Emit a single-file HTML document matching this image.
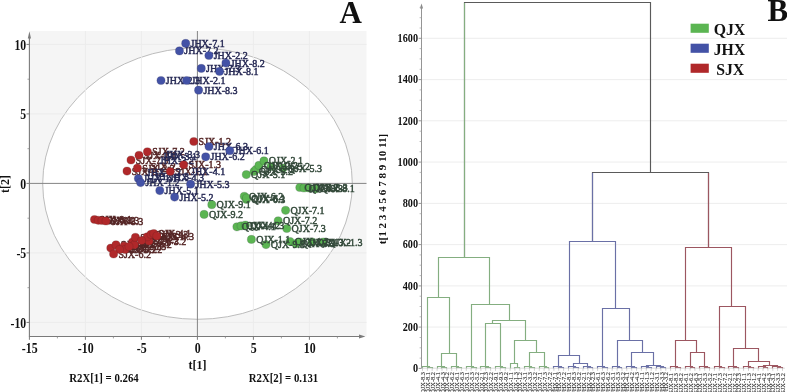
<!DOCTYPE html><html><head><meta charset="utf-8"><style>html,body{margin:0;padding:0;background:#fff;width:787px;height:392px;overflow:hidden}svg{display:block;will-change:transform}text{font-family:"Liberation Serif",serif}</style></head><body>
<svg width="787" height="392" viewBox="0 0 787 392">
<rect x="30" y="31" width="336.5" height="305.4" fill="#f5f5f5"/>
<ellipse cx="197.5" cy="183.6" rx="154.8" ry="135.7" fill="#fff" stroke="#b4b4b4" stroke-width="0.9"/>
<line x1="85.4" y1="31" x2="85.4" y2="336" stroke="#ebebeb" stroke-width="0.9"/>
<line x1="141.4" y1="31" x2="141.4" y2="336" stroke="#ebebeb" stroke-width="0.9"/>
<line x1="253.4" y1="31" x2="253.4" y2="336" stroke="#ebebeb" stroke-width="0.9"/>
<line x1="309.4" y1="31" x2="309.4" y2="336" stroke="#ebebeb" stroke-width="0.9"/>
<line x1="30" y1="44.4" x2="366.5" y2="44.4" stroke="#ebebeb" stroke-width="0.9"/>
<line x1="30" y1="113.9" x2="366.5" y2="113.9" stroke="#ebebeb" stroke-width="0.9"/>
<line x1="30" y1="252.9" x2="366.5" y2="252.9" stroke="#ebebeb" stroke-width="0.9"/>
<line x1="30" y1="322.4" x2="366.5" y2="322.4" stroke="#ebebeb" stroke-width="0.9"/>
<line x1="197.4" y1="31" x2="197.4" y2="336" stroke="#858585" stroke-width="1"/>
<line x1="30" y1="183.4" x2="366.5" y2="183.4" stroke="#858585" stroke-width="1"/>
<line x1="29.4" y1="37" x2="29.4" y2="337" stroke="#7a7a7a" stroke-width="1.1"/>
<path d="M29.4 31.3 L27.8 38.6 L31 38.6 Z" fill="#7a7a7a"/>
<line x1="29" y1="336.5" x2="360" y2="336.5" stroke="#7a7a7a" stroke-width="1.1"/>
<path d="M365.4 336.5 L359 334.5 L359 338.5 Z" fill="#7a7a7a"/>
<line x1="26.5" y1="44.4" x2="29.4" y2="44.4" stroke="#7a7a7a" stroke-width="1"/>
<line x1="26.5" y1="113.9" x2="29.4" y2="113.9" stroke="#7a7a7a" stroke-width="1"/>
<line x1="26.5" y1="183.4" x2="29.4" y2="183.4" stroke="#7a7a7a" stroke-width="1"/>
<line x1="26.5" y1="252.9" x2="29.4" y2="252.9" stroke="#7a7a7a" stroke-width="1"/>
<line x1="26.5" y1="322.4" x2="29.4" y2="322.4" stroke="#7a7a7a" stroke-width="1"/>
<line x1="27.5" y1="79.2" x2="29.4" y2="79.2" stroke="#8a8a8a" stroke-width="0.8"/>
<line x1="27.5" y1="148.7" x2="29.4" y2="148.7" stroke="#8a8a8a" stroke-width="0.8"/>
<line x1="27.5" y1="218.2" x2="29.4" y2="218.2" stroke="#8a8a8a" stroke-width="0.8"/>
<line x1="27.5" y1="287.7" x2="29.4" y2="287.7" stroke="#8a8a8a" stroke-width="0.8"/>
<line x1="29.4" y1="336.5" x2="29.4" y2="339.8" stroke="#7a7a7a" stroke-width="1"/>
<line x1="85.4" y1="336.5" x2="85.4" y2="339.8" stroke="#7a7a7a" stroke-width="1"/>
<line x1="141.4" y1="336.5" x2="141.4" y2="339.8" stroke="#7a7a7a" stroke-width="1"/>
<line x1="197.4" y1="336.5" x2="197.4" y2="339.8" stroke="#7a7a7a" stroke-width="1"/>
<line x1="253.4" y1="336.5" x2="253.4" y2="339.8" stroke="#7a7a7a" stroke-width="1"/>
<line x1="309.4" y1="336.5" x2="309.4" y2="339.8" stroke="#7a7a7a" stroke-width="1"/>
<line x1="57.4" y1="336.5" x2="57.4" y2="338.4" stroke="#8a8a8a" stroke-width="0.8"/>
<line x1="113.4" y1="336.5" x2="113.4" y2="338.4" stroke="#8a8a8a" stroke-width="0.8"/>
<line x1="169.4" y1="336.5" x2="169.4" y2="338.4" stroke="#8a8a8a" stroke-width="0.8"/>
<line x1="225.4" y1="336.5" x2="225.4" y2="338.4" stroke="#8a8a8a" stroke-width="0.8"/>
<line x1="281.4" y1="336.5" x2="281.4" y2="338.4" stroke="#8a8a8a" stroke-width="0.8"/>
<line x1="337.4" y1="336.5" x2="337.4" y2="338.4" stroke="#8a8a8a" stroke-width="0.8"/>
<text transform="translate(26.2,49.8) scale(0.98,1.18)" text-anchor="end" font-weight="bold" font-size="12" fill="#111">10</text>
<text transform="translate(26.2,119.3) scale(0.98,1.18)" text-anchor="end" font-weight="bold" font-size="12" fill="#111">5</text>
<text transform="translate(26.2,188.8) scale(0.98,1.18)" text-anchor="end" font-weight="bold" font-size="12" fill="#111">0</text>
<text transform="translate(26.2,258.3) scale(0.98,1.18)" text-anchor="end" font-weight="bold" font-size="12" fill="#111">-5</text>
<text transform="translate(26.2,327.8) scale(0.98,1.18)" text-anchor="end" font-weight="bold" font-size="12" fill="#111">-10</text>
<text transform="translate(29.7,352.7) scale(0.99,1.2)" text-anchor="middle" font-weight="bold" font-size="12" fill="#111">-15</text>
<text transform="translate(85.7,352.7) scale(0.99,1.2)" text-anchor="middle" font-weight="bold" font-size="12" fill="#111">-10</text>
<text transform="translate(141.7,352.7) scale(0.99,1.2)" text-anchor="middle" font-weight="bold" font-size="12" fill="#111">-5</text>
<text transform="translate(197.7,352.7) scale(0.99,1.2)" text-anchor="middle" font-weight="bold" font-size="12" fill="#111">0</text>
<text transform="translate(253.7,352.7) scale(0.99,1.2)" text-anchor="middle" font-weight="bold" font-size="12" fill="#111">5</text>
<text transform="translate(309.7,352.7) scale(0.99,1.2)" text-anchor="middle" font-weight="bold" font-size="12" fill="#111">10</text>
<text x="197.6" y="369" text-anchor="middle" font-weight="bold" font-size="12" fill="#111">t[1]</text>
<text transform="translate(9.3,184) rotate(-90)" text-anchor="middle" font-weight="bold" font-size="12" fill="#111">t[2]</text>
<text transform="translate(69.3,382.2) scale(0.9,1)" font-weight="bold" font-size="12" fill="#111">R2X[1] = 0.264</text>
<text transform="translate(248.8,382.2) scale(0.9,1)" font-weight="bold" font-size="12" fill="#111">R2X[2] = 0.131</text>
<text x="339.6" y="22.6" font-weight="bold" font-size="31" fill="#111">A</text>
<text x="198.6" y="145.0" font-size="10" fill="#552626" stroke="#552626" stroke-width="0.45">SJX-1.2</text><text x="135.8" y="163.5" font-size="10" fill="#552626" stroke="#552626" stroke-width="0.45">SJX-7.3</text><text x="143.8" y="158.8" font-size="10" fill="#552626" stroke="#552626" stroke-width="0.45">SJX-7.1</text><text x="152.2" y="155.3" font-size="10" fill="#552626" stroke="#552626" stroke-width="0.45">SJX-7.2</text><text x="131.8" y="174.6" font-size="10" fill="#552626" stroke="#552626" stroke-width="0.45">SJX-2.1</text><text x="142.2" y="171.7" font-size="10" fill="#552626" stroke="#552626" stroke-width="0.45">SJX-2.2</text><text x="150.8" y="170.0" font-size="10" fill="#552626" stroke="#552626" stroke-width="0.45">SJX-2.3</text><text x="175.0" y="175.0" font-size="10" fill="#552626" stroke="#552626" stroke-width="0.45">SJX-1.1</text><text x="188.5" y="168.3" font-size="10" fill="#552626" stroke="#552626" stroke-width="0.45">SJX-1.3</text><text x="99.3" y="223.0" font-size="10" fill="#552626" stroke="#552626" stroke-width="0.45">SJX-8.1</text><text x="103.1" y="223.8" font-size="10" fill="#552626" stroke="#552626" stroke-width="0.45">SJX-8.2</text><text x="106.8" y="224.0" font-size="10" fill="#552626" stroke="#552626" stroke-width="0.45">SJX-8.3</text><text x="110.8" y="224.5" font-size="10" fill="#552626" stroke="#552626" stroke-width="0.45">SJX-8.3</text><text x="115.6" y="251.6" font-size="10" fill="#552626" stroke="#552626" stroke-width="0.45">SJX-6.1</text><text x="120.8" y="248.3" font-size="10" fill="#552626" stroke="#552626" stroke-width="0.45">SJX-6.3</text><text x="128.9" y="249.7" font-size="10" fill="#552626" stroke="#552626" stroke-width="0.45">SJX-5.3</text><text x="129.8" y="253.0" font-size="10" fill="#552626" stroke="#552626" stroke-width="0.45">SJX-5.2</text><text x="137.3" y="245.5" font-size="10" fill="#552626" stroke="#552626" stroke-width="0.45">SJX-5.1</text><text x="139.2" y="248.3" font-size="10" fill="#552626" stroke="#552626" stroke-width="0.45">SJX-4.2</text><text x="140.2" y="240.8" font-size="10" fill="#552626" stroke="#552626" stroke-width="0.45">SJX-4.3</text><text x="153.8" y="244.5" font-size="10" fill="#552626" stroke="#552626" stroke-width="0.45">SJX-3.2</text><text x="152.0" y="240.3" font-size="10" fill="#552626" stroke="#552626" stroke-width="0.45">SJX-3.1</text><text x="155.8" y="237.9" font-size="10" fill="#552626" stroke="#552626" stroke-width="0.45">SJX-3.3</text><text x="158.6" y="237.0" font-size="10" fill="#552626" stroke="#552626" stroke-width="0.45">SJX-4.1</text><text x="124.3" y="253.0" font-size="10" fill="#552626" stroke="#552626" stroke-width="0.45">SJX-5.2</text><text x="133.8" y="250.0" font-size="10" fill="#552626" stroke="#552626" stroke-width="0.45">SJX-5.3</text><text x="146.3" y="244.0" font-size="10" fill="#552626" stroke="#552626" stroke-width="0.45">SJX-4.2</text><text x="161.6" y="239.5" font-size="10" fill="#552626" stroke="#552626" stroke-width="0.45">SJX-4.3</text><text x="118.4" y="257.5" font-size="10" fill="#552626" stroke="#552626" stroke-width="0.45">SJX-6.2</text>
<text x="190.5" y="46.9" font-size="10" fill="#272a55" stroke="#272a55" stroke-width="0.45">JHX-7.1</text><text x="184.3" y="54.4" font-size="10" fill="#272a55" stroke="#272a55" stroke-width="0.45">JHX-7.2</text><text x="213.7" y="59.0" font-size="10" fill="#272a55" stroke="#272a55" stroke-width="0.45">JHX-2.2</text><text x="230.7" y="66.5" font-size="10" fill="#272a55" stroke="#272a55" stroke-width="0.45">JHX-8.2</text><text x="206.1" y="71.9" font-size="10" fill="#272a55" stroke="#272a55" stroke-width="0.45">JHX-7.3</text><text x="224.4" y="74.9" font-size="10" fill="#272a55" stroke="#272a55" stroke-width="0.45">JHX-8.1</text><text x="165.8" y="84.0" font-size="10" fill="#272a55" stroke="#272a55" stroke-width="0.45">JHX-2.3</text><text x="191.4" y="84.0" font-size="10" fill="#272a55" stroke="#272a55" stroke-width="0.45">JHX-2.1</text><text x="203.4" y="93.7" font-size="10" fill="#272a55" stroke="#272a55" stroke-width="0.45">JHX-8.3</text><text x="162.8" y="159.5" font-size="10" fill="#272a55" stroke="#272a55" stroke-width="0.45">JHX-3.1</text><text x="165.8" y="157.5" font-size="10" fill="#272a55" stroke="#272a55" stroke-width="0.45">JHX-3.3</text><text x="159.8" y="163.5" font-size="10" fill="#272a55" stroke="#272a55" stroke-width="0.45">JHX-3.2</text><text x="146.8" y="176.0" font-size="10" fill="#272a55" stroke="#272a55" stroke-width="0.45">JHX-4.2</text><text x="154.8" y="179.5" font-size="10" fill="#272a55" stroke="#272a55" stroke-width="0.45">JHX-1.3</text><text x="169.8" y="180.5" font-size="10" fill="#272a55" stroke="#272a55" stroke-width="0.45">JHX-4.3</text><text x="191.0" y="175.0" font-size="10" fill="#272a55" stroke="#272a55" stroke-width="0.45">JHX-4.1</text><text x="143.2" y="182.1" font-size="10" fill="#272a55" stroke="#272a55" stroke-width="0.45">JHX-1.1</text><text x="145.4" y="186.1" font-size="10" fill="#272a55" stroke="#272a55" stroke-width="0.45">JHX-1.2</text><text x="164.6" y="194.1" font-size="10" fill="#272a55" stroke="#272a55" stroke-width="0.45">JHX-5.1</text><text x="179.4" y="200.6" font-size="10" fill="#272a55" stroke="#272a55" stroke-width="0.45">JHX-5.2</text><text x="195.4" y="187.7" font-size="10" fill="#272a55" stroke="#272a55" stroke-width="0.45">JHX-5.3</text><text x="213.8" y="150.0" font-size="10" fill="#272a55" stroke="#272a55" stroke-width="0.45">JHX-6.3</text><text x="234.6" y="154.2" font-size="10" fill="#272a55" stroke="#272a55" stroke-width="0.45">JHX-6.1</text><text x="210.5" y="160.3" font-size="10" fill="#272a55" stroke="#272a55" stroke-width="0.45">JHX-6.2</text>
<circle cx="185.7" cy="43.4" r="4.1" fill="#4352a6" stroke="#272a55" stroke-opacity="0.45" stroke-width="0.5"/><circle cx="179.5" cy="50.9" r="4.1" fill="#4352a6" stroke="#272a55" stroke-opacity="0.45" stroke-width="0.5"/><circle cx="208.9" cy="55.5" r="4.1" fill="#4352a6" stroke="#272a55" stroke-opacity="0.45" stroke-width="0.5"/><circle cx="225.9" cy="63" r="4.1" fill="#4352a6" stroke="#272a55" stroke-opacity="0.45" stroke-width="0.5"/><circle cx="201.3" cy="68.4" r="4.1" fill="#4352a6" stroke="#272a55" stroke-opacity="0.45" stroke-width="0.5"/><circle cx="219.6" cy="71.4" r="4.1" fill="#4352a6" stroke="#272a55" stroke-opacity="0.45" stroke-width="0.5"/><circle cx="161" cy="80.5" r="4.1" fill="#4352a6" stroke="#272a55" stroke-opacity="0.45" stroke-width="0.5"/><circle cx="186.6" cy="80.5" r="4.1" fill="#4352a6" stroke="#272a55" stroke-opacity="0.45" stroke-width="0.5"/><circle cx="198.6" cy="90.2" r="4.1" fill="#4352a6" stroke="#272a55" stroke-opacity="0.45" stroke-width="0.5"/><circle cx="138.4" cy="178.6" r="4.1" fill="#4352a6" stroke="#272a55" stroke-opacity="0.45" stroke-width="0.5"/><circle cx="140.6" cy="182.6" r="4.1" fill="#4352a6" stroke="#272a55" stroke-opacity="0.45" stroke-width="0.5"/><circle cx="159.8" cy="190.6" r="4.1" fill="#4352a6" stroke="#272a55" stroke-opacity="0.45" stroke-width="0.5"/><circle cx="174.6" cy="197.1" r="4.1" fill="#4352a6" stroke="#272a55" stroke-opacity="0.45" stroke-width="0.5"/><circle cx="190.6" cy="184.2" r="4.1" fill="#4352a6" stroke="#272a55" stroke-opacity="0.45" stroke-width="0.5"/><circle cx="209" cy="146.5" r="4.1" fill="#4352a6" stroke="#272a55" stroke-opacity="0.45" stroke-width="0.5"/><circle cx="229.8" cy="150.7" r="4.1" fill="#4352a6" stroke="#272a55" stroke-opacity="0.45" stroke-width="0.5"/><circle cx="205.7" cy="156.8" r="4.1" fill="#4352a6" stroke="#272a55" stroke-opacity="0.45" stroke-width="0.5"/>
<circle cx="193.8" cy="141.5" r="4.1" fill="#b0282a" stroke="#552626" stroke-opacity="0.45" stroke-width="0.5"/><circle cx="131" cy="160" r="4.1" fill="#b0282a" stroke="#552626" stroke-opacity="0.45" stroke-width="0.5"/><circle cx="139" cy="155.3" r="4.1" fill="#b0282a" stroke="#552626" stroke-opacity="0.45" stroke-width="0.5"/><circle cx="147.4" cy="151.8" r="4.1" fill="#b0282a" stroke="#552626" stroke-opacity="0.45" stroke-width="0.5"/><circle cx="127" cy="171.1" r="4.1" fill="#b0282a" stroke="#552626" stroke-opacity="0.45" stroke-width="0.5"/><circle cx="137.4" cy="168.2" r="4.1" fill="#b0282a" stroke="#552626" stroke-opacity="0.45" stroke-width="0.5"/><circle cx="170.2" cy="171.5" r="4.1" fill="#b0282a" stroke="#552626" stroke-opacity="0.45" stroke-width="0.5"/><circle cx="183.7" cy="164.8" r="4.1" fill="#b0282a" stroke="#552626" stroke-opacity="0.45" stroke-width="0.5"/><circle cx="94.5" cy="219.5" r="4.1" fill="#b0282a" stroke="#552626" stroke-opacity="0.45" stroke-width="0.5"/><circle cx="98.3" cy="220.3" r="4.1" fill="#b0282a" stroke="#552626" stroke-opacity="0.45" stroke-width="0.5"/><circle cx="102" cy="220.5" r="4.1" fill="#b0282a" stroke="#552626" stroke-opacity="0.45" stroke-width="0.5"/><circle cx="106" cy="221" r="4.1" fill="#b0282a" stroke="#552626" stroke-opacity="0.45" stroke-width="0.5"/><circle cx="110.8" cy="248.1" r="4.1" fill="#b0282a" stroke="#552626" stroke-opacity="0.45" stroke-width="0.5"/><circle cx="116" cy="244.8" r="4.1" fill="#b0282a" stroke="#552626" stroke-opacity="0.45" stroke-width="0.5"/><circle cx="124.1" cy="246.2" r="4.1" fill="#b0282a" stroke="#552626" stroke-opacity="0.45" stroke-width="0.5"/><circle cx="125" cy="249.5" r="4.1" fill="#b0282a" stroke="#552626" stroke-opacity="0.45" stroke-width="0.5"/><circle cx="132.5" cy="242" r="4.1" fill="#b0282a" stroke="#552626" stroke-opacity="0.45" stroke-width="0.5"/><circle cx="134.4" cy="244.8" r="4.1" fill="#b0282a" stroke="#552626" stroke-opacity="0.45" stroke-width="0.5"/><circle cx="135.4" cy="237.3" r="4.1" fill="#b0282a" stroke="#552626" stroke-opacity="0.45" stroke-width="0.5"/><circle cx="149" cy="241" r="4.1" fill="#b0282a" stroke="#552626" stroke-opacity="0.45" stroke-width="0.5"/><circle cx="147.2" cy="236.8" r="4.1" fill="#b0282a" stroke="#552626" stroke-opacity="0.45" stroke-width="0.5"/><circle cx="151" cy="234.4" r="4.1" fill="#b0282a" stroke="#552626" stroke-opacity="0.45" stroke-width="0.5"/><circle cx="153.8" cy="233.5" r="4.1" fill="#b0282a" stroke="#552626" stroke-opacity="0.45" stroke-width="0.5"/><circle cx="119.5" cy="249.5" r="4.1" fill="#b0282a" stroke="#552626" stroke-opacity="0.45" stroke-width="0.5"/><circle cx="129" cy="246.5" r="4.1" fill="#b0282a" stroke="#552626" stroke-opacity="0.45" stroke-width="0.5"/><circle cx="141.5" cy="240.5" r="4.1" fill="#b0282a" stroke="#552626" stroke-opacity="0.45" stroke-width="0.5"/><circle cx="156.8" cy="236" r="4.1" fill="#b0282a" stroke="#552626" stroke-opacity="0.45" stroke-width="0.5"/><circle cx="113.6" cy="254" r="4.1" fill="#b0282a" stroke="#552626" stroke-opacity="0.45" stroke-width="0.5"/>
<circle cx="246.3" cy="174.6" r="4.1" fill="#5bb552" stroke="#33493a" stroke-opacity="0.45" stroke-width="0.5"/><circle cx="254" cy="171.5" r="4.1" fill="#5bb552" stroke="#33493a" stroke-opacity="0.45" stroke-width="0.5"/><circle cx="256" cy="169.5" r="4.1" fill="#5bb552" stroke="#33493a" stroke-opacity="0.45" stroke-width="0.5"/><circle cx="258.9" cy="165.4" r="4.1" fill="#5bb552" stroke="#33493a" stroke-opacity="0.45" stroke-width="0.5"/><circle cx="264" cy="160.9" r="4.1" fill="#5bb552" stroke="#33493a" stroke-opacity="0.45" stroke-width="0.5"/><circle cx="271" cy="166.5" r="4.1" fill="#5bb552" stroke="#33493a" stroke-opacity="0.45" stroke-width="0.5"/><circle cx="283" cy="168.2" r="4.1" fill="#5bb552" stroke="#33493a" stroke-opacity="0.45" stroke-width="0.5"/><circle cx="299.8" cy="187.5" r="4.1" fill="#5bb552" stroke="#33493a" stroke-opacity="0.45" stroke-width="0.5"/><circle cx="304" cy="188" r="4.1" fill="#5bb552" stroke="#33493a" stroke-opacity="0.45" stroke-width="0.5"/><circle cx="308.7" cy="187.9" r="4.1" fill="#5bb552" stroke="#33493a" stroke-opacity="0.45" stroke-width="0.5"/><circle cx="315.8" cy="188.8" r="4.1" fill="#5bb552" stroke="#33493a" stroke-opacity="0.45" stroke-width="0.5"/><circle cx="244.3" cy="196.3" r="4.1" fill="#5bb552" stroke="#33493a" stroke-opacity="0.45" stroke-width="0.5"/><circle cx="246.4" cy="199.4" r="4.1" fill="#5bb552" stroke="#33493a" stroke-opacity="0.45" stroke-width="0.5"/><circle cx="246.5" cy="198" r="4.1" fill="#5bb552" stroke="#33493a" stroke-opacity="0.45" stroke-width="0.5"/><circle cx="211.8" cy="204.7" r="4.1" fill="#5bb552" stroke="#33493a" stroke-opacity="0.45" stroke-width="0.5"/><circle cx="204.1" cy="214.4" r="4.1" fill="#5bb552" stroke="#33493a" stroke-opacity="0.45" stroke-width="0.5"/><circle cx="285.6" cy="210.3" r="4.1" fill="#5bb552" stroke="#33493a" stroke-opacity="0.45" stroke-width="0.5"/><circle cx="278.2" cy="220.8" r="4.1" fill="#5bb552" stroke="#33493a" stroke-opacity="0.45" stroke-width="0.5"/><circle cx="286.8" cy="228.5" r="4.1" fill="#5bb552" stroke="#33493a" stroke-opacity="0.45" stroke-width="0.5"/><circle cx="236.9" cy="226.8" r="4.1" fill="#5bb552" stroke="#33493a" stroke-opacity="0.45" stroke-width="0.5"/><circle cx="241.1" cy="225.9" r="4.1" fill="#5bb552" stroke="#33493a" stroke-opacity="0.45" stroke-width="0.5"/><circle cx="245.4" cy="225.1" r="4.1" fill="#5bb552" stroke="#33493a" stroke-opacity="0.45" stroke-width="0.5"/><circle cx="251.4" cy="239.4" r="4.1" fill="#5bb552" stroke="#33493a" stroke-opacity="0.45" stroke-width="0.5"/><circle cx="266" cy="244.6" r="4.1" fill="#5bb552" stroke="#33493a" stroke-opacity="0.45" stroke-width="0.5"/><circle cx="290" cy="241.5" r="4.1" fill="#5bb552" stroke="#33493a" stroke-opacity="0.45" stroke-width="0.5"/><circle cx="296" cy="243.7" r="4.1" fill="#5bb552" stroke="#33493a" stroke-opacity="0.45" stroke-width="0.5"/><circle cx="299.5" cy="242" r="4.1" fill="#5bb552" stroke="#33493a" stroke-opacity="0.45" stroke-width="0.5"/><circle cx="312" cy="242" r="4.1" fill="#5bb552" stroke="#33493a" stroke-opacity="0.45" stroke-width="0.5"/><circle cx="323.5" cy="242" r="4.1" fill="#5bb552" stroke="#33493a" stroke-opacity="0.45" stroke-width="0.5"/>
<text x="251.1" y="178.1" font-size="10" fill="#33493a" stroke="#33493a" stroke-width="0.45">QJX-5.1</text><text x="258.8" y="175.0" font-size="10" fill="#33493a" stroke="#33493a" stroke-width="0.45">QJX-5.2</text><text x="260.8" y="173.0" font-size="10" fill="#33493a" stroke="#33493a" stroke-width="0.45">QJX-2.3</text><text x="263.7" y="168.9" font-size="10" fill="#33493a" stroke="#33493a" stroke-width="0.45">QJX-2.2</text><text x="268.8" y="164.4" font-size="10" fill="#33493a" stroke="#33493a" stroke-width="0.45">QJX-2.1</text><text x="275.8" y="170.0" font-size="10" fill="#33493a" stroke="#33493a" stroke-width="0.45">QJX-5.2</text><text x="287.8" y="171.7" font-size="10" fill="#33493a" stroke="#33493a" stroke-width="0.45">QJX-5.3</text><text x="304.6" y="191.0" font-size="10" fill="#33493a" stroke="#33493a" stroke-width="0.45">QJX-8.2</text><text x="308.8" y="191.5" font-size="10" fill="#33493a" stroke="#33493a" stroke-width="0.45">QJX-8.3</text><text x="313.5" y="191.4" font-size="10" fill="#33493a" stroke="#33493a" stroke-width="0.45">QJX-8.3</text><text x="320.6" y="192.3" font-size="10" fill="#33493a" stroke="#33493a" stroke-width="0.45">QJX-8.1</text><text x="249.1" y="199.8" font-size="10" fill="#33493a" stroke="#33493a" stroke-width="0.45">QJX-6.2</text><text x="251.2" y="202.9" font-size="10" fill="#33493a" stroke="#33493a" stroke-width="0.45">QJX-6.3</text><text x="251.3" y="201.5" font-size="10" fill="#33493a" stroke="#33493a" stroke-width="0.45">QJX-6.1</text><text x="216.6" y="208.2" font-size="10" fill="#33493a" stroke="#33493a" stroke-width="0.45">QJX-9.1</text><text x="208.9" y="217.9" font-size="10" fill="#33493a" stroke="#33493a" stroke-width="0.45">QJX-9.2</text><text x="290.4" y="213.8" font-size="10" fill="#33493a" stroke="#33493a" stroke-width="0.45">QJX-7.1</text><text x="283.0" y="224.3" font-size="10" fill="#33493a" stroke="#33493a" stroke-width="0.45">QJX-7.2</text><text x="291.6" y="232.0" font-size="10" fill="#33493a" stroke="#33493a" stroke-width="0.45">QJX-7.3</text><text x="241.7" y="230.3" font-size="10" fill="#33493a" stroke="#33493a" stroke-width="0.45">QJX-4.1</text><text x="245.9" y="229.4" font-size="10" fill="#33493a" stroke="#33493a" stroke-width="0.45">QJX-4.2</text><text x="250.2" y="228.6" font-size="10" fill="#33493a" stroke="#33493a" stroke-width="0.45">QJX-4.3</text><text x="256.2" y="242.9" font-size="10" fill="#33493a" stroke="#33493a" stroke-width="0.45">QJX-1.1</text><text x="270.8" y="248.1" font-size="10" fill="#33493a" stroke="#33493a" stroke-width="0.45">QJX-9.3</text><text x="294.8" y="245.0" font-size="10" fill="#33493a" stroke="#33493a" stroke-width="0.45">QJX-1.2</text><text x="300.8" y="247.2" font-size="10" fill="#33493a" stroke="#33493a" stroke-width="0.45">QJX-5.3</text><text x="304.3" y="245.5" font-size="10" fill="#33493a" stroke="#33493a" stroke-width="0.45">QJX-3.1</text><text x="316.8" y="245.5" font-size="10" fill="#33493a" stroke="#33493a" stroke-width="0.45">QJX-3.2</text><text x="328.3" y="245.5" font-size="10" fill="#33493a" stroke="#33493a" stroke-width="0.45">QJX-1.3</text>
<line x1="422" y1="327.1" x2="787" y2="327.1" stroke="#ebebeb" stroke-width="0.9"/>
<line x1="422" y1="285.9" x2="787" y2="285.9" stroke="#ebebeb" stroke-width="0.9"/>
<line x1="422" y1="244.6" x2="787" y2="244.6" stroke="#ebebeb" stroke-width="0.9"/>
<line x1="422" y1="203.4" x2="787" y2="203.4" stroke="#ebebeb" stroke-width="0.9"/>
<line x1="422" y1="162.1" x2="787" y2="162.1" stroke="#ebebeb" stroke-width="0.9"/>
<line x1="422" y1="120.8" x2="787" y2="120.8" stroke="#ebebeb" stroke-width="0.9"/>
<line x1="422" y1="79.6" x2="787" y2="79.6" stroke="#ebebeb" stroke-width="0.9"/>
<line x1="422" y1="38.3" x2="787" y2="38.3" stroke="#ebebeb" stroke-width="0.9"/>
<line x1="421.5" y1="7.5" x2="421.5" y2="368.5" stroke="#959595" stroke-width="1"/>
<path d="M421.5 3.4 L419.9 8.4 L423.1 8.4 Z" fill="#8a8a8a"/>
<line x1="418.6" y1="368.4" x2="421.4" y2="368.4" stroke="#8a8a8a" stroke-width="0.9"/>
<line x1="419.6" y1="358.1" x2="421.4" y2="358.1" stroke="#a0a0a0" stroke-width="0.7"/>
<line x1="419.6" y1="347.8" x2="421.4" y2="347.8" stroke="#a0a0a0" stroke-width="0.7"/>
<line x1="419.6" y1="337.5" x2="421.4" y2="337.5" stroke="#a0a0a0" stroke-width="0.7"/>
<line x1="418.6" y1="327.1" x2="421.4" y2="327.1" stroke="#8a8a8a" stroke-width="0.9"/>
<line x1="419.6" y1="316.8" x2="421.4" y2="316.8" stroke="#a0a0a0" stroke-width="0.7"/>
<line x1="419.6" y1="306.5" x2="421.4" y2="306.5" stroke="#a0a0a0" stroke-width="0.7"/>
<line x1="419.6" y1="296.2" x2="421.4" y2="296.2" stroke="#a0a0a0" stroke-width="0.7"/>
<line x1="418.6" y1="285.9" x2="421.4" y2="285.9" stroke="#8a8a8a" stroke-width="0.9"/>
<line x1="419.6" y1="275.6" x2="421.4" y2="275.6" stroke="#a0a0a0" stroke-width="0.7"/>
<line x1="419.6" y1="265.2" x2="421.4" y2="265.2" stroke="#a0a0a0" stroke-width="0.7"/>
<line x1="419.6" y1="254.9" x2="421.4" y2="254.9" stroke="#a0a0a0" stroke-width="0.7"/>
<line x1="418.6" y1="244.6" x2="421.4" y2="244.6" stroke="#8a8a8a" stroke-width="0.9"/>
<line x1="419.6" y1="234.3" x2="421.4" y2="234.3" stroke="#a0a0a0" stroke-width="0.7"/>
<line x1="419.6" y1="224.0" x2="421.4" y2="224.0" stroke="#a0a0a0" stroke-width="0.7"/>
<line x1="419.6" y1="213.7" x2="421.4" y2="213.7" stroke="#a0a0a0" stroke-width="0.7"/>
<line x1="418.6" y1="203.4" x2="421.4" y2="203.4" stroke="#8a8a8a" stroke-width="0.9"/>
<line x1="419.6" y1="193.0" x2="421.4" y2="193.0" stroke="#a0a0a0" stroke-width="0.7"/>
<line x1="419.6" y1="182.7" x2="421.4" y2="182.7" stroke="#a0a0a0" stroke-width="0.7"/>
<line x1="419.6" y1="172.4" x2="421.4" y2="172.4" stroke="#a0a0a0" stroke-width="0.7"/>
<line x1="418.6" y1="162.1" x2="421.4" y2="162.1" stroke="#8a8a8a" stroke-width="0.9"/>
<line x1="419.6" y1="151.8" x2="421.4" y2="151.8" stroke="#a0a0a0" stroke-width="0.7"/>
<line x1="419.6" y1="141.5" x2="421.4" y2="141.5" stroke="#a0a0a0" stroke-width="0.7"/>
<line x1="419.6" y1="131.2" x2="421.4" y2="131.2" stroke="#a0a0a0" stroke-width="0.7"/>
<line x1="418.6" y1="120.8" x2="421.4" y2="120.8" stroke="#8a8a8a" stroke-width="0.9"/>
<line x1="419.6" y1="110.5" x2="421.4" y2="110.5" stroke="#a0a0a0" stroke-width="0.7"/>
<line x1="419.6" y1="100.2" x2="421.4" y2="100.2" stroke="#a0a0a0" stroke-width="0.7"/>
<line x1="419.6" y1="89.9" x2="421.4" y2="89.9" stroke="#a0a0a0" stroke-width="0.7"/>
<line x1="418.6" y1="79.6" x2="421.4" y2="79.6" stroke="#8a8a8a" stroke-width="0.9"/>
<line x1="419.6" y1="69.3" x2="421.4" y2="69.3" stroke="#a0a0a0" stroke-width="0.7"/>
<line x1="419.6" y1="58.9" x2="421.4" y2="58.9" stroke="#a0a0a0" stroke-width="0.7"/>
<line x1="419.6" y1="48.6" x2="421.4" y2="48.6" stroke="#a0a0a0" stroke-width="0.7"/>
<line x1="418.6" y1="38.3" x2="421.4" y2="38.3" stroke="#8a8a8a" stroke-width="0.9"/>
<line x1="419.6" y1="28.0" x2="421.4" y2="28.0" stroke="#a0a0a0" stroke-width="0.7"/>
<line x1="419.6" y1="17.7" x2="421.4" y2="17.7" stroke="#a0a0a0" stroke-width="0.7"/>
<line x1="419.6" y1="7.4" x2="421.4" y2="7.4" stroke="#a0a0a0" stroke-width="0.7"/>
<text transform="translate(418,372.1) scale(1,1.15)" text-anchor="end" font-weight="bold" font-size="10.2" fill="#111">0</text>
<text transform="translate(418,330.8) scale(1,1.15)" text-anchor="end" font-weight="bold" font-size="10.2" fill="#111">200</text>
<text transform="translate(418,289.6) scale(1,1.15)" text-anchor="end" font-weight="bold" font-size="10.2" fill="#111">400</text>
<text transform="translate(418,248.3) scale(1,1.15)" text-anchor="end" font-weight="bold" font-size="10.2" fill="#111">600</text>
<text transform="translate(418,207.1) scale(1,1.15)" text-anchor="end" font-weight="bold" font-size="10.2" fill="#111">800</text>
<text transform="translate(418,165.8) scale(1,1.15)" text-anchor="end" font-weight="bold" font-size="10.2" fill="#111">1000</text>
<text transform="translate(418,124.5) scale(1,1.15)" text-anchor="end" font-weight="bold" font-size="10.2" fill="#111">1200</text>
<text transform="translate(418,83.3) scale(1,1.15)" text-anchor="end" font-weight="bold" font-size="10.2" fill="#111">1400</text>
<text transform="translate(418,42.0) scale(1,1.15)" text-anchor="end" font-weight="bold" font-size="10.2" fill="#111">1600</text>
<text transform="translate(386.4,189) rotate(-90)" text-anchor="middle" font-weight="bold" font-size="11.1" fill="#111">t[1 2 3 4 5 6 7 8 9 10 11]</text>
<text x="767.4" y="20.7" font-weight="bold" font-size="31" fill="#111">B</text>
<rect x="690.6" y="23.7" width="18.2" height="9.1" fill="#5bb552"/>
<text x="713.7" y="35.1" font-weight="bold" font-size="15.8" fill="#111">QJX</text>
<rect x="690.6" y="43.7" width="18.2" height="9.1" fill="#4352a6"/>
<text x="713.7" y="55.1" font-weight="bold" font-size="15.8" fill="#111">JHX</text>
<rect x="690.6" y="63.7" width="18.2" height="9.1" fill="#b0282a"/>
<text x="716.2" y="75.1" font-weight="bold" font-size="15.8" fill="#111">SJX</text>
<path d="M464.5 257.5 V2.5 H650.5 V172.5" fill="none" stroke="#5a5a5a" stroke-width="1.15"/><line x1="464.5" y1="3" x2="464.5" y2="257.5" stroke="#84ae80" stroke-width="1.15"/><path d="M592.5 241.5 V172.5 H708.5 V247.5" fill="none" stroke="#5a5a5a" stroke-width="1.15"/><line x1="592.5" y1="173" x2="592.5" y2="241.5" stroke="#6a70a6" stroke-width="1.15"/><line x1="708.5" y1="173" x2="708.5" y2="247.5" stroke="#9c5660" stroke-width="1.15"/><path d="M438.5 297.5 V257.5 H489.5 V304.5" fill="none" stroke="#84ae80" stroke-width="1.15"/><path d="M427.5 366.5 V297.5 H449.5 V353.5" fill="none" stroke="#84ae80" stroke-width="1.15"/><path d="M441.5 366.5 V353.5 H456.5 V366.5" fill="none" stroke="#84ae80" stroke-width="1.15"/><path d="M471.5 366.5 V304.5 H509.5 V320.5" fill="none" stroke="#84ae80" stroke-width="1.15"/><path d="M492.5 323.5 V320.5 H525.5 V340.5" fill="none" stroke="#84ae80" stroke-width="1.15"/><path d="M485.5 366.5 V323.5 H500.5 V366.5" fill="none" stroke="#84ae80" stroke-width="1.15"/><path d="M514.5 363.5 V340.5 H536.5 V352.5" fill="none" stroke="#84ae80" stroke-width="1.15"/><path d="M529.5 366.5 V352.5 H544.5 V366.5" fill="none" stroke="#84ae80" stroke-width="1.15"/><path d="M569.5 355.5 V241.5 H615.5 V308.5" fill="none" stroke="#6a70a6" stroke-width="1.15"/><path d="M558.5 366.5 V355.5 H579.5 V363.5" fill="none" stroke="#6a70a6" stroke-width="1.15"/><path d="M573.5 366.5 V363.5 H587.5 V366.5" fill="none" stroke="#6a70a6" stroke-width="1.15"/><path d="M602.5 366.5 V308.5 H629.5 V340.5" fill="none" stroke="#6a70a6" stroke-width="1.15"/><path d="M617.5 366.5 V340.5 H642.5 V352.5" fill="none" stroke="#6a70a6" stroke-width="1.15"/><path d="M631.5 366.5 V352.5 H653.5 V365.5" fill="none" stroke="#6a70a6" stroke-width="1.15"/><path d="M646.5 366.5 V365.5 H660.5 V366.5" fill="none" stroke="#6a70a6" stroke-width="1.15"/><path d="M685.5 340.5 V247.5 H731.5 V306.5" fill="none" stroke="#9c5660" stroke-width="1.15"/><path d="M675.5 366.5 V340.5 H696.5 V352.5" fill="none" stroke="#9c5660" stroke-width="1.15"/><path d="M690.5 366.5 V352.5 H704.5 V366.5" fill="none" stroke="#9c5660" stroke-width="1.15"/><path d="M719.5 366.5 V306.5 H745.5 V348.5" fill="none" stroke="#9c5660" stroke-width="1.15"/><path d="M733.5 366.5 V348.5 H758.5 V361.5" fill="none" stroke="#9c5660" stroke-width="1.15"/><path d="M748.5 366.5 V361.5 H769.5 V365.5" fill="none" stroke="#9c5660" stroke-width="1.15"/><path d="M763.5 366.5 V365.5 H777.5 V366.5" fill="none" stroke="#9c5660" stroke-width="1.15"/><path d="M422.5 368.5 V366.5 H429.5 V367.5" fill="none" stroke="#84ae80" stroke-width="1.15"/><path d="M427.5 368.5 V367.5 H432.5 V368.5" fill="none" stroke="#84ae80" stroke-width="1.15"/><path d="M437.5 368.5 V366.5 H444.5 V367.5" fill="none" stroke="#84ae80" stroke-width="1.15"/><path d="M441.5 368.5 V367.5 H446.5 V368.5" fill="none" stroke="#84ae80" stroke-width="1.15"/><path d="M451.5 368.5 V366.5 H458.5 V367.5" fill="none" stroke="#84ae80" stroke-width="1.15"/><path d="M456.5 368.5 V367.5 H461.5 V368.5" fill="none" stroke="#84ae80" stroke-width="1.15"/><path d="M466.5 368.5 V366.5 H473.5 V367.5" fill="none" stroke="#84ae80" stroke-width="1.15"/><path d="M471.5 368.5 V367.5 H476.5 V368.5" fill="none" stroke="#84ae80" stroke-width="1.15"/><path d="M480.5 368.5 V366.5 H488.5 V367.5" fill="none" stroke="#84ae80" stroke-width="1.15"/><path d="M485.5 368.5 V367.5 H490.5 V368.5" fill="none" stroke="#84ae80" stroke-width="1.15"/><path d="M495.5 368.5 V366.5 H502.5 V367.5" fill="none" stroke="#84ae80" stroke-width="1.15"/><path d="M500.5 368.5 V367.5 H505.5 V368.5" fill="none" stroke="#84ae80" stroke-width="1.15"/><path d="M510.5 368.5 V363.5 H517.5 V367.5" fill="none" stroke="#84ae80" stroke-width="1.15"/><path d="M514.5 368.5 V367.5 H519.5 V368.5" fill="none" stroke="#84ae80" stroke-width="1.15"/><path d="M524.5 368.5 V366.5 H531.5 V367.5" fill="none" stroke="#84ae80" stroke-width="1.15"/><path d="M529.5 368.5 V367.5 H534.5 V368.5" fill="none" stroke="#84ae80" stroke-width="1.15"/><path d="M539.5 368.5 V366.5 H546.5 V367.5" fill="none" stroke="#84ae80" stroke-width="1.15"/><path d="M544.5 368.5 V367.5 H548.5 V368.5" fill="none" stroke="#84ae80" stroke-width="1.15"/><path d="M553.5 368.5 V366.5 H561.5 V367.5" fill="none" stroke="#6a70a6" stroke-width="1.15"/><path d="M558.5 368.5 V367.5 H563.5 V368.5" fill="none" stroke="#6a70a6" stroke-width="1.15"/><path d="M568.5 368.5 V366.5 H575.5 V367.5" fill="none" stroke="#6a70a6" stroke-width="1.15"/><path d="M573.5 368.5 V367.5 H578.5 V368.5" fill="none" stroke="#6a70a6" stroke-width="1.15"/><path d="M583.5 368.5 V366.5 H590.5 V367.5" fill="none" stroke="#6a70a6" stroke-width="1.15"/><path d="M587.5 368.5 V367.5 H592.5 V368.5" fill="none" stroke="#6a70a6" stroke-width="1.15"/><path d="M597.5 368.5 V366.5 H604.5 V367.5" fill="none" stroke="#6a70a6" stroke-width="1.15"/><path d="M602.5 368.5 V367.5 H607.5 V368.5" fill="none" stroke="#6a70a6" stroke-width="1.15"/><path d="M612.5 368.5 V366.5 H619.5 V367.5" fill="none" stroke="#6a70a6" stroke-width="1.15"/><path d="M617.5 368.5 V367.5 H621.5 V368.5" fill="none" stroke="#6a70a6" stroke-width="1.15"/><path d="M626.5 368.5 V366.5 H634.5 V367.5" fill="none" stroke="#6a70a6" stroke-width="1.15"/><path d="M631.5 368.5 V367.5 H636.5 V368.5" fill="none" stroke="#6a70a6" stroke-width="1.15"/><path d="M641.5 368.5 V366.5 H648.5 V367.5" fill="none" stroke="#6a70a6" stroke-width="1.15"/><path d="M646.5 368.5 V367.5 H651.5 V368.5" fill="none" stroke="#6a70a6" stroke-width="1.15"/><path d="M656.5 368.5 V366.5 H663.5 V367.5" fill="none" stroke="#6a70a6" stroke-width="1.15"/><path d="M660.5 368.5 V367.5 H665.5 V368.5" fill="none" stroke="#6a70a6" stroke-width="1.15"/><path d="M670.5 368.5 V366.5 H677.5 V367.5" fill="none" stroke="#9c5660" stroke-width="1.15"/><path d="M675.5 368.5 V367.5 H680.5 V368.5" fill="none" stroke="#9c5660" stroke-width="1.15"/><path d="M685.5 368.5 V366.5 H692.5 V367.5" fill="none" stroke="#9c5660" stroke-width="1.15"/><path d="M690.5 368.5 V367.5 H694.5 V368.5" fill="none" stroke="#9c5660" stroke-width="1.15"/><path d="M699.5 368.5 V366.5 H707.5 V367.5" fill="none" stroke="#9c5660" stroke-width="1.15"/><path d="M704.5 368.5 V367.5 H709.5 V368.5" fill="none" stroke="#9c5660" stroke-width="1.15"/><path d="M714.5 368.5 V366.5 H721.5 V367.5" fill="none" stroke="#9c5660" stroke-width="1.15"/><path d="M719.5 368.5 V367.5 H724.5 V368.5" fill="none" stroke="#9c5660" stroke-width="1.15"/><path d="M728.5 368.5 V366.5 H736.5 V367.5" fill="none" stroke="#9c5660" stroke-width="1.15"/><path d="M733.5 368.5 V367.5 H738.5 V368.5" fill="none" stroke="#9c5660" stroke-width="1.15"/><path d="M743.5 368.5 V366.5 H750.5 V367.5" fill="none" stroke="#9c5660" stroke-width="1.15"/><path d="M748.5 368.5 V367.5 H753.5 V368.5" fill="none" stroke="#9c5660" stroke-width="1.15"/><path d="M758.5 368.5 V366.5 H765.5 V367.5" fill="none" stroke="#9c5660" stroke-width="1.15"/><path d="M763.5 368.5 V367.5 H767.5 V368.5" fill="none" stroke="#9c5660" stroke-width="1.15"/><path d="M772.5 368.5 V366.5 H780.5 V367.5" fill="none" stroke="#9c5660" stroke-width="1.15"/><path d="M777.5 368.5 V367.5 H782.5 V368.5" fill="none" stroke="#9c5660" stroke-width="1.15"/>
<line x1="422.5" y1="368.5" x2="422.5" y2="370.8" stroke="#b0b0b0" stroke-width="0.6"/><text transform="translate(425.1,393.8) rotate(-90)" font-size="6.4" fill="#333" stroke="#333" stroke-width="0.12">QJX-8.3</text><line x1="427.4" y1="368.5" x2="427.4" y2="370.8" stroke="#b0b0b0" stroke-width="0.6"/><text transform="translate(430.0,393.8) rotate(-90)" font-size="6.4" fill="#333" stroke="#333" stroke-width="0.12">QJX-8.1</text><line x1="432.2" y1="368.5" x2="432.2" y2="370.8" stroke="#b0b0b0" stroke-width="0.6"/><text transform="translate(434.8,393.8) rotate(-90)" font-size="6.4" fill="#333" stroke="#333" stroke-width="0.12">QJX-8.2</text><line x1="437.1" y1="368.5" x2="437.1" y2="370.8" stroke="#b0b0b0" stroke-width="0.6"/><text transform="translate(439.7,393.8) rotate(-90)" font-size="6.4" fill="#333" stroke="#333" stroke-width="0.12">QJX-4.1</text><line x1="442.0" y1="368.5" x2="442.0" y2="370.8" stroke="#b0b0b0" stroke-width="0.6"/><text transform="translate(444.6,393.8) rotate(-90)" font-size="6.4" fill="#333" stroke="#333" stroke-width="0.12">QJX-4.3</text><line x1="446.8" y1="368.5" x2="446.8" y2="370.8" stroke="#b0b0b0" stroke-width="0.6"/><text transform="translate(449.4,393.8) rotate(-90)" font-size="6.4" fill="#333" stroke="#333" stroke-width="0.12">QJX-4.2</text><line x1="451.7" y1="368.5" x2="451.7" y2="370.8" stroke="#b0b0b0" stroke-width="0.6"/><text transform="translate(454.3,393.8) rotate(-90)" font-size="6.4" fill="#333" stroke="#333" stroke-width="0.12">QJX-6.2</text><line x1="456.6" y1="368.5" x2="456.6" y2="370.8" stroke="#b0b0b0" stroke-width="0.6"/><text transform="translate(459.2,393.8) rotate(-90)" font-size="6.4" fill="#333" stroke="#333" stroke-width="0.12">QJX-6.1</text><line x1="461.4" y1="368.5" x2="461.4" y2="370.8" stroke="#b0b0b0" stroke-width="0.6"/><text transform="translate(464.0,393.8) rotate(-90)" font-size="6.4" fill="#333" stroke="#333" stroke-width="0.12">QJX-6.3</text><line x1="466.3" y1="368.5" x2="466.3" y2="370.8" stroke="#b0b0b0" stroke-width="0.6"/><text transform="translate(468.9,393.8) rotate(-90)" font-size="6.4" fill="#333" stroke="#333" stroke-width="0.12">QJX-5.1</text><line x1="471.1" y1="368.5" x2="471.1" y2="370.8" stroke="#b0b0b0" stroke-width="0.6"/><text transform="translate(473.8,393.8) rotate(-90)" font-size="6.4" fill="#333" stroke="#333" stroke-width="0.12">QJX-5.3</text><line x1="476.0" y1="368.5" x2="476.0" y2="370.8" stroke="#b0b0b0" stroke-width="0.6"/><text transform="translate(478.6,393.8) rotate(-90)" font-size="6.4" fill="#333" stroke="#333" stroke-width="0.12">QJX-5.2</text><line x1="480.9" y1="368.5" x2="480.9" y2="370.8" stroke="#b0b0b0" stroke-width="0.6"/><text transform="translate(483.5,393.8) rotate(-90)" font-size="6.4" fill="#333" stroke="#333" stroke-width="0.12">QJX-2.1</text><line x1="485.7" y1="368.5" x2="485.7" y2="370.8" stroke="#b0b0b0" stroke-width="0.6"/><text transform="translate(488.3,393.8) rotate(-90)" font-size="6.4" fill="#333" stroke="#333" stroke-width="0.12">QJX-2.3</text><line x1="490.6" y1="368.5" x2="490.6" y2="370.8" stroke="#b0b0b0" stroke-width="0.6"/><text transform="translate(493.2,393.8) rotate(-90)" font-size="6.4" fill="#333" stroke="#333" stroke-width="0.12">QJX-2.2</text><line x1="495.5" y1="368.5" x2="495.5" y2="370.8" stroke="#b0b0b0" stroke-width="0.6"/><text transform="translate(498.1,393.8) rotate(-90)" font-size="6.4" fill="#333" stroke="#333" stroke-width="0.12">QJX-9.1</text><line x1="500.3" y1="368.5" x2="500.3" y2="370.8" stroke="#b0b0b0" stroke-width="0.6"/><text transform="translate(502.9,393.8) rotate(-90)" font-size="6.4" fill="#333" stroke="#333" stroke-width="0.12">QJX-9.3</text><line x1="505.2" y1="368.5" x2="505.2" y2="370.8" stroke="#b0b0b0" stroke-width="0.6"/><text transform="translate(507.8,393.8) rotate(-90)" font-size="6.4" fill="#333" stroke="#333" stroke-width="0.12">QJX-9.2</text><line x1="510.1" y1="368.5" x2="510.1" y2="370.8" stroke="#b0b0b0" stroke-width="0.6"/><text transform="translate(512.7,393.8) rotate(-90)" font-size="6.4" fill="#333" stroke="#333" stroke-width="0.12">QJX-1.1</text><line x1="514.9" y1="368.5" x2="514.9" y2="370.8" stroke="#b0b0b0" stroke-width="0.6"/><text transform="translate(517.5,393.8) rotate(-90)" font-size="6.4" fill="#333" stroke="#333" stroke-width="0.12">QJX-1.3</text><line x1="519.8" y1="368.5" x2="519.8" y2="370.8" stroke="#b0b0b0" stroke-width="0.6"/><text transform="translate(522.4,393.8) rotate(-90)" font-size="6.4" fill="#333" stroke="#333" stroke-width="0.12">QJX-1.2</text><line x1="524.7" y1="368.5" x2="524.7" y2="370.8" stroke="#b0b0b0" stroke-width="0.6"/><text transform="translate(527.3,393.8) rotate(-90)" font-size="6.4" fill="#333" stroke="#333" stroke-width="0.12">QJX-3.1</text><line x1="529.5" y1="368.5" x2="529.5" y2="370.8" stroke="#b0b0b0" stroke-width="0.6"/><text transform="translate(532.1,393.8) rotate(-90)" font-size="6.4" fill="#333" stroke="#333" stroke-width="0.12">QJX-3.3</text><line x1="534.4" y1="368.5" x2="534.4" y2="370.8" stroke="#b0b0b0" stroke-width="0.6"/><text transform="translate(537.0,393.8) rotate(-90)" font-size="6.4" fill="#333" stroke="#333" stroke-width="0.12">QJX-3.2</text><line x1="539.3" y1="368.5" x2="539.3" y2="370.8" stroke="#b0b0b0" stroke-width="0.6"/><text transform="translate(541.9,393.8) rotate(-90)" font-size="6.4" fill="#333" stroke="#333" stroke-width="0.12">QJX-7.1</text><line x1="544.1" y1="368.5" x2="544.1" y2="370.8" stroke="#b0b0b0" stroke-width="0.6"/><text transform="translate(546.7,393.8) rotate(-90)" font-size="6.4" fill="#333" stroke="#333" stroke-width="0.12">QJX-7.3</text><line x1="549.0" y1="368.5" x2="549.0" y2="370.8" stroke="#b0b0b0" stroke-width="0.6"/><text transform="translate(551.6,393.8) rotate(-90)" font-size="6.4" fill="#333" stroke="#333" stroke-width="0.12">QJX-7.2</text><line x1="553.9" y1="368.5" x2="553.9" y2="370.8" stroke="#b0b0b0" stroke-width="0.6"/><text transform="translate(556.5,393.8) rotate(-90)" font-size="6.4" fill="#333" stroke="#333" stroke-width="0.12">JHX-7.1</text><line x1="558.7" y1="368.5" x2="558.7" y2="370.8" stroke="#b0b0b0" stroke-width="0.6"/><text transform="translate(561.3,393.8) rotate(-90)" font-size="6.4" fill="#333" stroke="#333" stroke-width="0.12">JHX-7.3</text><line x1="563.6" y1="368.5" x2="563.6" y2="370.8" stroke="#b0b0b0" stroke-width="0.6"/><text transform="translate(566.2,393.8) rotate(-90)" font-size="6.4" fill="#333" stroke="#333" stroke-width="0.12">JHX-7.2</text><line x1="568.5" y1="368.5" x2="568.5" y2="370.8" stroke="#b0b0b0" stroke-width="0.6"/><text transform="translate(571.1,393.8) rotate(-90)" font-size="6.4" fill="#333" stroke="#333" stroke-width="0.12">JHX-8.1</text><line x1="573.3" y1="368.5" x2="573.3" y2="370.8" stroke="#b0b0b0" stroke-width="0.6"/><text transform="translate(575.9,393.8) rotate(-90)" font-size="6.4" fill="#333" stroke="#333" stroke-width="0.12">JHX-8.3</text><line x1="578.2" y1="368.5" x2="578.2" y2="370.8" stroke="#b0b0b0" stroke-width="0.6"/><text transform="translate(580.8,393.8) rotate(-90)" font-size="6.4" fill="#333" stroke="#333" stroke-width="0.12">JHX-8.2</text><line x1="583.0" y1="368.5" x2="583.0" y2="370.8" stroke="#b0b0b0" stroke-width="0.6"/><text transform="translate(585.6,393.8) rotate(-90)" font-size="6.4" fill="#333" stroke="#333" stroke-width="0.12">JHX-2.1</text><line x1="587.9" y1="368.5" x2="587.9" y2="370.8" stroke="#b0b0b0" stroke-width="0.6"/><text transform="translate(590.5,393.8) rotate(-90)" font-size="6.4" fill="#333" stroke="#333" stroke-width="0.12">JHX-2.2</text><line x1="592.8" y1="368.5" x2="592.8" y2="370.8" stroke="#b0b0b0" stroke-width="0.6"/><text transform="translate(595.4,393.8) rotate(-90)" font-size="6.4" fill="#333" stroke="#333" stroke-width="0.12">JHX-2.3</text><line x1="597.6" y1="368.5" x2="597.6" y2="370.8" stroke="#b0b0b0" stroke-width="0.6"/><text transform="translate(600.2,393.8) rotate(-90)" font-size="6.4" fill="#333" stroke="#333" stroke-width="0.12">JHX-6.1</text><line x1="602.5" y1="368.5" x2="602.5" y2="370.8" stroke="#b0b0b0" stroke-width="0.6"/><text transform="translate(605.1,393.8) rotate(-90)" font-size="6.4" fill="#333" stroke="#333" stroke-width="0.12">JHX-6.3</text><line x1="607.4" y1="368.5" x2="607.4" y2="370.8" stroke="#b0b0b0" stroke-width="0.6"/><text transform="translate(610.0,393.8) rotate(-90)" font-size="6.4" fill="#333" stroke="#333" stroke-width="0.12">JHX-6.2</text><line x1="612.2" y1="368.5" x2="612.2" y2="370.8" stroke="#b0b0b0" stroke-width="0.6"/><text transform="translate(614.8,393.8) rotate(-90)" font-size="6.4" fill="#333" stroke="#333" stroke-width="0.12">JHX-5.1</text><line x1="617.1" y1="368.5" x2="617.1" y2="370.8" stroke="#b0b0b0" stroke-width="0.6"/><text transform="translate(619.7,393.8) rotate(-90)" font-size="6.4" fill="#333" stroke="#333" stroke-width="0.12">JHX-5.3</text><line x1="622.0" y1="368.5" x2="622.0" y2="370.8" stroke="#b0b0b0" stroke-width="0.6"/><text transform="translate(624.6,393.8) rotate(-90)" font-size="6.4" fill="#333" stroke="#333" stroke-width="0.12">JHX-5.2</text><line x1="626.8" y1="368.5" x2="626.8" y2="370.8" stroke="#b0b0b0" stroke-width="0.6"/><text transform="translate(629.4,393.8) rotate(-90)" font-size="6.4" fill="#333" stroke="#333" stroke-width="0.12">JHX-4.1</text><line x1="631.7" y1="368.5" x2="631.7" y2="370.8" stroke="#b0b0b0" stroke-width="0.6"/><text transform="translate(634.3,393.8) rotate(-90)" font-size="6.4" fill="#333" stroke="#333" stroke-width="0.12">JHX-4.2</text><line x1="636.6" y1="368.5" x2="636.6" y2="370.8" stroke="#b0b0b0" stroke-width="0.6"/><text transform="translate(639.2,393.8) rotate(-90)" font-size="6.4" fill="#333" stroke="#333" stroke-width="0.12">JHX-4.3</text><line x1="641.4" y1="368.5" x2="641.4" y2="370.8" stroke="#b0b0b0" stroke-width="0.6"/><text transform="translate(644.0,393.8) rotate(-90)" font-size="6.4" fill="#333" stroke="#333" stroke-width="0.12">JHX-1.1</text><line x1="646.3" y1="368.5" x2="646.3" y2="370.8" stroke="#b0b0b0" stroke-width="0.6"/><text transform="translate(648.9,393.8) rotate(-90)" font-size="6.4" fill="#333" stroke="#333" stroke-width="0.12">JHX-1.3</text><line x1="651.2" y1="368.5" x2="651.2" y2="370.8" stroke="#b0b0b0" stroke-width="0.6"/><text transform="translate(653.8,393.8) rotate(-90)" font-size="6.4" fill="#333" stroke="#333" stroke-width="0.12">JHX-1.2</text><line x1="656.0" y1="368.5" x2="656.0" y2="370.8" stroke="#b0b0b0" stroke-width="0.6"/><text transform="translate(658.6,393.8) rotate(-90)" font-size="6.4" fill="#333" stroke="#333" stroke-width="0.12">JHX-3.1</text><line x1="660.9" y1="368.5" x2="660.9" y2="370.8" stroke="#b0b0b0" stroke-width="0.6"/><text transform="translate(663.5,393.8) rotate(-90)" font-size="6.4" fill="#333" stroke="#333" stroke-width="0.12">JHX-3.3</text><line x1="665.8" y1="368.5" x2="665.8" y2="370.8" stroke="#b0b0b0" stroke-width="0.6"/><text transform="translate(668.4,393.8) rotate(-90)" font-size="6.4" fill="#333" stroke="#333" stroke-width="0.12">JHX-3.2</text><line x1="670.6" y1="368.5" x2="670.6" y2="370.8" stroke="#b0b0b0" stroke-width="0.6"/><text transform="translate(673.2,393.8) rotate(-90)" font-size="6.4" fill="#333" stroke="#333" stroke-width="0.12">SJX-8.1</text><line x1="675.5" y1="368.5" x2="675.5" y2="370.8" stroke="#b0b0b0" stroke-width="0.6"/><text transform="translate(678.1,393.8) rotate(-90)" font-size="6.4" fill="#333" stroke="#333" stroke-width="0.12">SJX-8.3</text><line x1="680.3" y1="368.5" x2="680.3" y2="370.8" stroke="#b0b0b0" stroke-width="0.6"/><text transform="translate(682.9,393.8) rotate(-90)" font-size="6.4" fill="#333" stroke="#333" stroke-width="0.12">SJX-8.2</text><line x1="685.2" y1="368.5" x2="685.2" y2="370.8" stroke="#b0b0b0" stroke-width="0.6"/><text transform="translate(687.8,393.8) rotate(-90)" font-size="6.4" fill="#333" stroke="#333" stroke-width="0.12">SJX-6.1</text><line x1="690.1" y1="368.5" x2="690.1" y2="370.8" stroke="#b0b0b0" stroke-width="0.6"/><text transform="translate(692.7,393.8) rotate(-90)" font-size="6.4" fill="#333" stroke="#333" stroke-width="0.12">SJX-6.2</text><line x1="694.9" y1="368.5" x2="694.9" y2="370.8" stroke="#b0b0b0" stroke-width="0.6"/><text transform="translate(697.5,393.8) rotate(-90)" font-size="6.4" fill="#333" stroke="#333" stroke-width="0.12">SJX-6.3</text><line x1="699.8" y1="368.5" x2="699.8" y2="370.8" stroke="#b0b0b0" stroke-width="0.6"/><text transform="translate(702.4,393.8) rotate(-90)" font-size="6.4" fill="#333" stroke="#333" stroke-width="0.12">SJX-5.1</text><line x1="704.7" y1="368.5" x2="704.7" y2="370.8" stroke="#b0b0b0" stroke-width="0.6"/><text transform="translate(707.3,393.8) rotate(-90)" font-size="6.4" fill="#333" stroke="#333" stroke-width="0.12">SJX-5.3</text><line x1="709.5" y1="368.5" x2="709.5" y2="370.8" stroke="#b0b0b0" stroke-width="0.6"/><text transform="translate(712.1,393.8) rotate(-90)" font-size="6.4" fill="#333" stroke="#333" stroke-width="0.12">SJX-5.2</text><line x1="714.4" y1="368.5" x2="714.4" y2="370.8" stroke="#b0b0b0" stroke-width="0.6"/><text transform="translate(717.0,393.8) rotate(-90)" font-size="6.4" fill="#333" stroke="#333" stroke-width="0.12">SJX-7.1</text><line x1="719.3" y1="368.5" x2="719.3" y2="370.8" stroke="#b0b0b0" stroke-width="0.6"/><text transform="translate(721.9,393.8) rotate(-90)" font-size="6.4" fill="#333" stroke="#333" stroke-width="0.12">SJX-7.3</text><line x1="724.1" y1="368.5" x2="724.1" y2="370.8" stroke="#b0b0b0" stroke-width="0.6"/><text transform="translate(726.7,393.8) rotate(-90)" font-size="6.4" fill="#333" stroke="#333" stroke-width="0.12">SJX-7.2</text><line x1="729.0" y1="368.5" x2="729.0" y2="370.8" stroke="#b0b0b0" stroke-width="0.6"/><text transform="translate(731.6,393.8) rotate(-90)" font-size="6.4" fill="#333" stroke="#333" stroke-width="0.12">SJX-2.1</text><line x1="733.9" y1="368.5" x2="733.9" y2="370.8" stroke="#b0b0b0" stroke-width="0.6"/><text transform="translate(736.5,393.8) rotate(-90)" font-size="6.4" fill="#333" stroke="#333" stroke-width="0.12">SJX-2.2</text><line x1="738.7" y1="368.5" x2="738.7" y2="370.8" stroke="#b0b0b0" stroke-width="0.6"/><text transform="translate(741.3,393.8) rotate(-90)" font-size="6.4" fill="#333" stroke="#333" stroke-width="0.12">SJX-2.3</text><line x1="743.6" y1="368.5" x2="743.6" y2="370.8" stroke="#b0b0b0" stroke-width="0.6"/><text transform="translate(746.2,393.8) rotate(-90)" font-size="6.4" fill="#333" stroke="#333" stroke-width="0.12">SJX-1.1</text><line x1="748.5" y1="368.5" x2="748.5" y2="370.8" stroke="#b0b0b0" stroke-width="0.6"/><text transform="translate(751.1,393.8) rotate(-90)" font-size="6.4" fill="#333" stroke="#333" stroke-width="0.12">SJX-1.3</text><line x1="753.3" y1="368.5" x2="753.3" y2="370.8" stroke="#b0b0b0" stroke-width="0.6"/><text transform="translate(755.9,393.8) rotate(-90)" font-size="6.4" fill="#333" stroke="#333" stroke-width="0.12">SJX-1.2</text><line x1="758.2" y1="368.5" x2="758.2" y2="370.8" stroke="#b0b0b0" stroke-width="0.6"/><text transform="translate(760.8,393.8) rotate(-90)" font-size="6.4" fill="#333" stroke="#333" stroke-width="0.12">SJX-4.1</text><line x1="763.0" y1="368.5" x2="763.0" y2="370.8" stroke="#b0b0b0" stroke-width="0.6"/><text transform="translate(765.6,393.8) rotate(-90)" font-size="6.4" fill="#333" stroke="#333" stroke-width="0.12">SJX-4.2</text><line x1="767.9" y1="368.5" x2="767.9" y2="370.8" stroke="#b0b0b0" stroke-width="0.6"/><text transform="translate(770.5,393.8) rotate(-90)" font-size="6.4" fill="#333" stroke="#333" stroke-width="0.12">SJX-4.3</text><line x1="772.8" y1="368.5" x2="772.8" y2="370.8" stroke="#b0b0b0" stroke-width="0.6"/><text transform="translate(775.4,393.8) rotate(-90)" font-size="6.4" fill="#333" stroke="#333" stroke-width="0.12">SJX-3.1</text><line x1="777.6" y1="368.5" x2="777.6" y2="370.8" stroke="#b0b0b0" stroke-width="0.6"/><text transform="translate(780.2,393.8) rotate(-90)" font-size="6.4" fill="#333" stroke="#333" stroke-width="0.12">SJX-3.3</text><line x1="782.5" y1="368.5" x2="782.5" y2="370.8" stroke="#b0b0b0" stroke-width="0.6"/><text transform="translate(785.1,393.8) rotate(-90)" font-size="6.4" fill="#333" stroke="#333" stroke-width="0.12">SJX-3.2</text>
<line x1="421" y1="368.2" x2="785" y2="368.2" stroke="#c8c8c8" stroke-width="0.6"/>
</svg></body></html>
